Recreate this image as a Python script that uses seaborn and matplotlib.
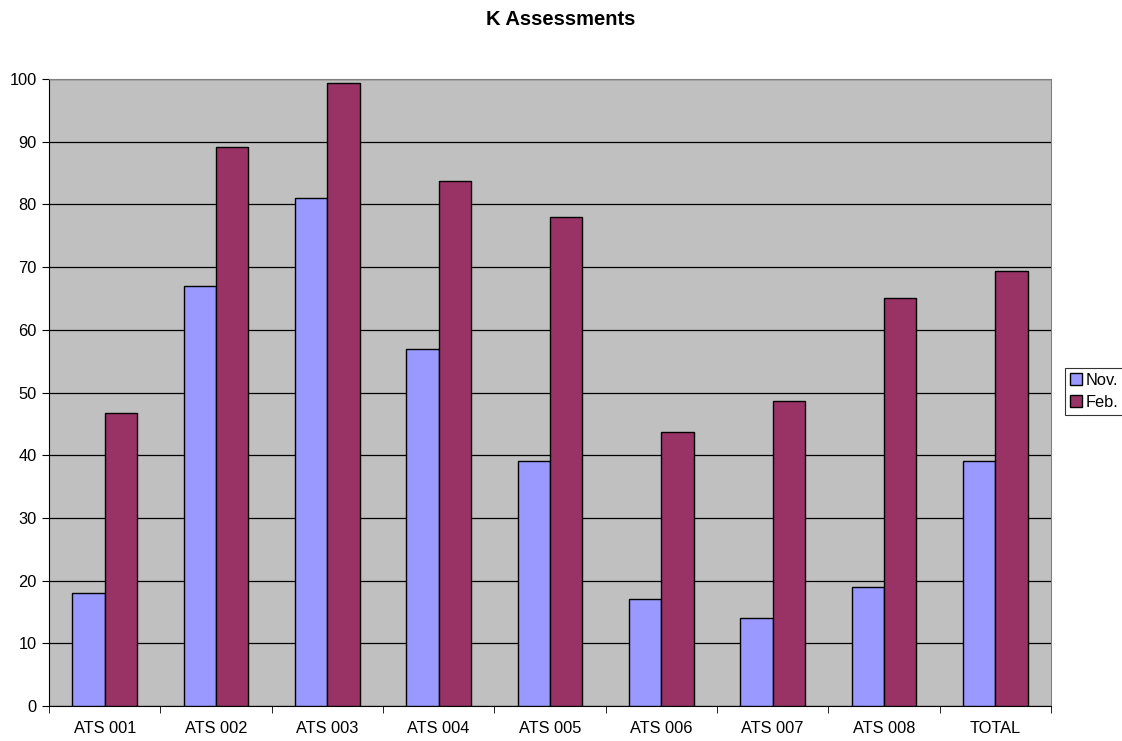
import numpy as np
import pandas as pd
import seaborn as sns
import matplotlib.pyplot as plt

# data
categories = ['ATS 001', 'ATS 002', 'ATS 003', 'ATS 004', 'ATS 005',
              'ATS 006', 'ATS 007', 'ATS 008', 'TOTAL']
nov = [18, 67, 81, 57, 39, 17, 14, 19, 39]
feb = [46.7, 89.2, 99.4, 83.7, 78, 43.7, 48.7, 65.0, 69.3]
series = ['Nov.', 'Feb.']
colors = ['#9999FF', '#993366']

df = pd.DataFrame({'cat': categories * 2,
                   'val': nov + feb,
                   'series': [series[0]] * len(nov) + [series[1]] * len(feb)})

plt.rcParams['font.family'] = ['Liberation Sans', 'DejaVu Sans']

fig = plt.figure(figsize=(11.22, 7.41), dpi=100)
ax = fig.add_axes([0.0437, 0.0472, 0.893, 0.8462])
ax.set_facecolor('#C0C0C0')

sns.barplot(data=df, x='cat', y='val', hue='series', palette=colors,
            width=0.58, gap=0, edgecolor='black', linewidth=1,
            saturation=1, ax=ax, zorder=3)

ax.set_ylim(0, 100)
ax.set_xlim(-0.5, len(categories) - 0.5)
ax.set_yticks(np.arange(0, 101, 10))
ax.yaxis.grid(True, color='black', linewidth=0.9, zorder=0)
ax.set_axisbelow(True)

# ticks between categories like the original
ax.set_xticks(np.arange(-0.5, len(categories), 1), minor=True)
ax.tick_params(axis='x', which='major', length=0, labelsize=11.8, pad=11)
ax.tick_params(axis='x', which='minor', length=5, color='black')
ax.tick_params(axis='y', length=5, labelsize=11.8, color='black', pad=4)

for side in ['top', 'right']:
    ax.spines[side].set_color('#808080')
for side in ['left', 'bottom']:
    ax.spines[side].set_color('black')
ax.set_xlabel('')
ax.set_ylabel('')

fig.suptitle('K Assessments', fontsize=14.5, fontweight='bold', y=0.974,
             va='center')

leg = ax.legend(loc='center left', bbox_to_anchor=(0.949, 0.472),
                bbox_transform=fig.transFigure, fontsize=11.8, frameon=True,
                fancybox=False, edgecolor='black', borderpad=0.3,
                handlelength=0.75, handleheight=0.75, handletextpad=0.25,
                labelspacing=0.45, borderaxespad=0)
leg.get_frame().set_linewidth(0.8)

fig.savefig('out.png', dpi=100)
